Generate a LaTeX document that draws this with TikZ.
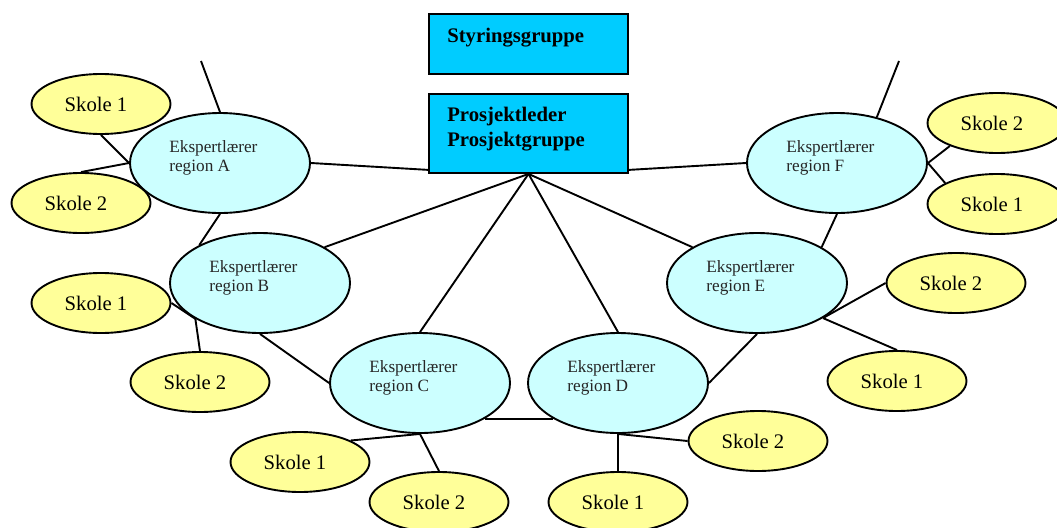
\documentclass[tikz,border=0pt]{standalone}
\usepackage{fontspec}
\setmainfont{Liberation Serif}
\usetikzlibrary{shapes.geometric,calc,backgrounds}
\definecolor{boxblue}{HTML}{00CCFF}
\definecolor{lcyan}{HTML}{CCFFFF}
\definecolor{lyellow}{HTML}{FFFF99}
\begin{document}
\begin{tikzpicture}[x=0.58pt,y=-0.58pt,
 conn/.style={line width=1.1pt},
 expert/.style={ellipse,draw,line width=1.1pt,fill=lcyan,minimum width=104.4pt,minimum height=58pt,inner sep=0pt},
 skole/.style={ellipse,draw,line width=1.1pt,fill=lyellow,minimum width=80.6pt,minimum height=34.8pt,inner sep=0pt,font=\fontsize{12pt}{14pt}\selectfont,execute at end node={\kern5.8pt}},
 group/.style={rectangle,draw,line width=1.1pt,fill=boxblue,minimum width=115.4pt,inner sep=0pt},
 exlab/.style={anchor=west,align=left,inner sep=0pt,font=\fontsize{10pt}{11pt}\selectfont,text=black!85},
 grlab/.style={anchor=west,align=left,inner sep=0pt,font=\fontsize{12pt}{14.5pt}\selectfont\bfseries}]
\useasboundingbox (0,0) rectangle (1057,527);
\clip (0,0) rectangle (1057,527);

% group boxes
\node[group,minimum height=34.8pt] (S) at (528.5,44) {};
\node[grlab] (Slab) at (447,38) {Styringsgruppe};
\node[group,minimum height=45.8pt] (P) at (528.5,133.5) {};
\node[grlab] (Plab) at (447,129.5) {Prosjektleder\\Prosjektgruppe};

% expert ellipses
\node[expert] (A) at (220,163) {};
\node[expert] (B) at (260,283) {};
\node[expert] (C) at (420,383) {};
\node[expert] (D) at (618,383) {};
\node[expert] (E) at (757,283) {};
\node[expert] (F) at (837,163) {};
\node[exlab] (Alab) at ($(A)+(-51,-5.5)$) {Ekspertlærer\\region A};
\node[exlab] (Blab) at ($(B)+(-51,-5.5)$) {Ekspertlærer\\region B};
\node[exlab] (Clab) at ($(C)+(-51,-5.5)$) {Ekspertlærer\\region C};
\node[exlab] (Dlab) at ($(D)+(-51,-5.5)$) {Ekspertlærer\\region D};
\node[exlab] (Elab) at ($(E)+(-51,-5.5)$) {Ekspertlærer\\region E};
\node[exlab] (Flab) at ($(F)+(-51,-5.5)$) {Ekspertlærer\\region F};

% schools
\node[skole] (A1) at (101,104) {Skole 1};
\node[skole] (A2) at (81,203) {Skole 2};
\node[skole] (B1) at (101,303) {Skole 1};
\node[skole] (B2) at (200,382) {Skole 2};
\node[skole] (C1) at (300,462) {Skole 1};
\node[skole] (C2) at (439,502) {Skole 2};
\node[skole] (D1) at (618,502) {Skole 1};
\node[skole] (D2) at (758,441) {Skole 2};
\node[skole] (E2) at (956,283) {Skole 2};
\node[skole] (E1) at (897,381) {Skole 1};
\node[skole] (F2) at (997,123) {Skole 2};
\node[skole] (F1) at (997,204) {Skole 1};

\coordinate (stubA) at (201,61);
\coordinate (stubF) at (899,61);

\begin{scope}[on background layer]
\draw[conn] (stubA) -- (A.north);
\draw[conn] (stubF) -- (F.49);
\draw[conn] (A1.south) -- (A.west);
\draw[conn] (A2.north) -- (A.west);
\draw[conn] (A.east) -- ($(P.south west)!0.05!(P.north west)$);
\draw[conn] (F.west) -- ($(P.south east)!0.05!(P.north east)$);
\draw[conn] (A.south) -- (B.148);
\draw[conn] (B.29) -- (P.south);
\draw[conn] (B1.east) -- (B.209);
\draw[conn] (B2.north) -- (B.209);
\draw[conn] (B.south) -- (C.west);
\draw[conn] (C.north) -- (P.south);
\draw[conn] (D.north) -- (P.south);
\draw[conn] (E.151) -- (P.south);
\draw[conn] (C.331) -- (D.209);
\draw[conn] (C1.23) -- (C.south);
\draw[conn] (C.south) -- (C2.north);
\draw[conn] (D.south) -- (D1.north);
\draw[conn] (D.south) -- (D2.west);
\draw[conn] (D.east) -- (E.south);
\draw[conn] (E.29) -- (F.south);
\draw[conn] (E.332) -- (E2.west);
\draw[conn] (E.332) -- (E1.north);
\draw[conn] (F.east) -- (F2.206);
\draw[conn] (F.east) -- (F1.158);
\end{scope}
\end{tikzpicture}
\end{document}
